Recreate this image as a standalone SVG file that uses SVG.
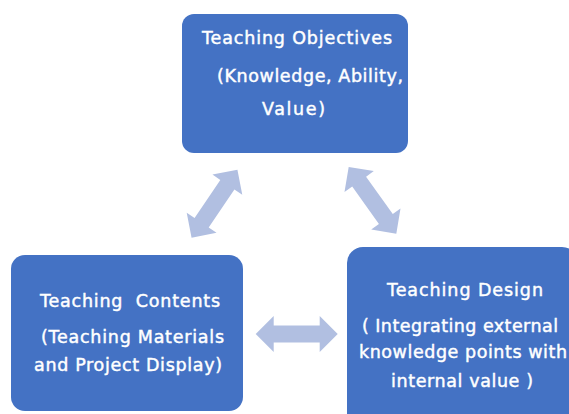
<svg xmlns="http://www.w3.org/2000/svg" xmlns:xlink="http://www.w3.org/1999/xlink" width="569" height="414" viewBox="0 0 569 414">
  <style>
    .box { fill: #4472C4; }
    .label { fill: #FFFFFF; stroke: #FFFFFF; stroke-width: 0.45px; font-family: "DejaVu Sans", Verdana, sans-serif; font-size: 17.5px; white-space: pre; }
    .link { fill: #B1BFE1; }
  </style>
  <defs>
    <!-- double-headed block arrow, centred on the origin, pointing along x -->
    <path id="dbl-arrow" d="M-41,0 L-23,-18 L-23,-8.5 L23,-8.5 L23,-18 L41,0 L23,18 L23,8.5 L-23,8.5 L-23,18 Z"/>
  </defs>
  <rect width="569" height="414" fill="#FFFFFF"/>

  <g id="connectors">
    <use xlink:href="#dbl-arrow" class="link" transform="translate(214.5,203.7) rotate(-56)"/>
    <use xlink:href="#dbl-arrow" class="link" transform="translate(372.5,200.3) rotate(54.5)"/>
    <use xlink:href="#dbl-arrow" class="link" transform="translate(296.7,334)"/>
  </g>

  <g id="objectives">
    <rect class="box" x="182" y="14" width="226" height="139" rx="12"/>
    <text class="label" x="202" y="44" textLength="190">Teaching Objectives</text>
    <text class="label" x="217" y="82" textLength="186">(Knowledge, Ability,</text>
    <text class="label" x="262" y="115" textLength="63">Value)</text>
  </g>

  <g id="contents">
    <rect class="box" x="11" y="255" width="232" height="156" rx="14"/>
    <text class="label" x="40" y="307" textLength="180">Teaching  Contents</text>
    <text class="label" x="41" y="343" textLength="183">(Teaching Materials</text>
    <text class="label" x="34" y="371" textLength="188">and Project Display)</text>
  </g>

  <g id="design">
    <rect class="box" x="347" y="247" width="231" height="185" rx="16"/>
    <text class="label" x="387" y="296" textLength="156">Teaching Design</text>
    <text class="label" x="362" y="332" textLength="196">( Integrating external</text>
    <text class="label" x="359" y="358" textLength="208">knowledge points with</text>
    <text class="label" x="391" y="387" textLength="142">internal value )</text>
  </g>
</svg>
